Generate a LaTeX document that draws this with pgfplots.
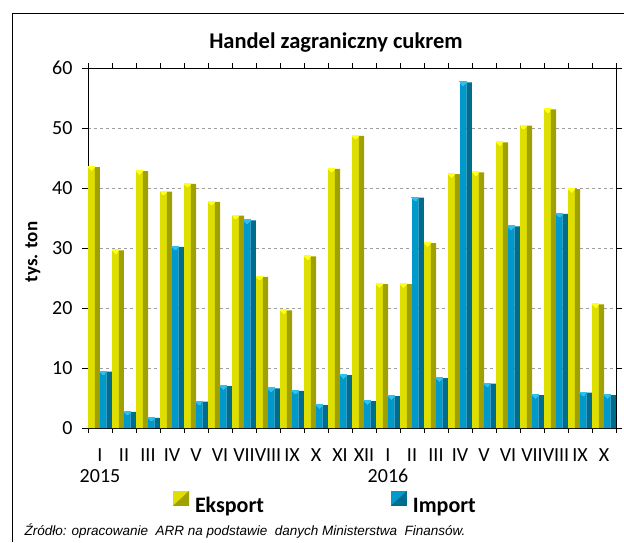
\documentclass[border=0pt]{standalone}
\usepackage{pgfplots}
\usepackage{pgfplotstable}
\pgfplotsset{compat=1.18}
\usepackage{fontspec}
\setmainfont{Carlito}
\newfontfamily\arialf{Liberation Sans}
\definecolor{expL}{HTML}{DEDE00}
\definecolor{expD}{HTML}{A0A000}
\definecolor{expT}{HTML}{FFFF20}
\definecolor{impL}{HTML}{0099CC}
\definecolor{impD}{HTML}{006C8E}
\definecolor{impT}{HTML}{30C0F0}
\pgfplotstableread{
x eksport import
0 43.5 9.4
1 29.6 2.7
2 42.8 1.7
3 39.4 30.2
4 40.7 4.4
5 37.7 7.0
6 35.4 34.6
7 25.2 6.6
8 19.6 6.2
9 28.6 3.8
10 43.2 8.8
11 48.7 4.5
12 24.0 5.3
13 24.0 38.4
14 30.8 8.3
15 42.3 57.6
16 42.6 7.4
17 47.6 33.6
18 50.4 5.5
19 53.1 35.7
20 39.8 5.9
21 20.6 5.5
}\dane
\begin{document}
\begin{tikzpicture}
\begin{axis}[
 anchor=south west, scale only axis, width=528pt, height=360pt,
 xmin=-0.5, xmax=21.5, ymin=0, ymax=60,
 clip=false,
 ytick={0,10,...,60},
 xtick={0,...,21},
 xticklabels={I,II,III,IV,V,VI,VII,VIII,IX,X,XI,XII,I,II,III,IV,V,VI,VII,VIII,IX,X},
 minor xtick={-0.5,0.5,...,21.5},
 major x tick style={draw=none},
 tick align=outside,
 tick style={black, line width=0.8pt},
 major tick length=6pt, minor tick length=5pt,
 ymajorgrids, grid style={dashed, gray!75, line width=0.8pt},
 axis line style={line width=0.9pt},
 ticklabel style={font=\fontsize{20}{24}\selectfont},
 /pgf/number format/assume math mode=true,
 xticklabel style={yshift=-11pt},
 yticklabel style={xshift=-6pt},
 legend columns=2,
 legend style={at={(axis description cs:0.161,-0.21)}, anchor=west, draw=none, fill=none,
   inner sep=0pt, outer sep=0pt,
   font=\bfseries\fontsize{22}{26}\selectfont,
   /tikz/every odd column/.style={column sep=4pt},
   /tikz/every even column/.style={column sep=125pt}},
]
\addplot[ybar, bar width=0.28, bar shift=-0.35, fill=expL, draw=none,
  legend image code/.code={\fill[expL] (0pt,0pt) rectangle (16pt,15pt);
    \fill[expD] (16pt,0pt) -- (16pt,15pt) -- (0pt,0pt) -- cycle;}]
  table[x=x,y=eksport]{\dane};
\addlegendentry{Eksport}
\addplot[ybar, bar width=0.21, bar shift=-0.105, fill=expD, draw=none, forget plot]
  table[x=x,y=eksport]{\dane};
\addplot[ybar, bar width=0.28, bar shift=0.14, fill=impL, draw=none,
  legend image code/.code={\fill[impL] (0pt,0pt) rectangle (16pt,15pt);
    \fill[impD] (16pt,0pt) -- (16pt,15pt) -- (0pt,0pt) -- cycle;}]
  table[x=x,y=import]{\dane};
\addlegendentry{Import}
\addplot[ybar, bar width=0.21, bar shift=0.385, fill=impD, draw=none, forget plot]
  table[x=x,y=import]{\dane};
% 3D top caps
\addplot[only marks, forget plot, color=expT, mark=triangle*, mark size=3.9pt,
  mark options={solid, fill=expT, draw=expT, line width=0pt, rotate=180, yscale=0.6, yshift=1.2pt}]
  table[x expr=\thisrow{x}-0.35, y=eksport]{\dane};
\addplot[only marks, forget plot, color=impT, mark=triangle*, mark size=3.9pt,
  mark options={solid, fill=impT, draw=impT, line width=0pt, rotate=180, yscale=0.6, yshift=1.2pt}]
  table[x expr=\thisrow{x}+0.14, y=import]{\dane};
\node[font=\fontsize{20}{24}\selectfont] at (axis cs:0,0) [yshift=-48pt] {2015};
\node[font=\fontsize{20}{24}\selectfont] at (axis cs:12,0) [yshift=-48pt] {2016};
\end{axis}
\begin{scope}[shift={(-88pt,-114pt)}]
\draw[line width=1pt] (12.5pt,0pt) -- (12.5pt,528.5pt) -- (624pt,528.5pt);
\node[font=\bfseries\fontsize{22.5}{26}\selectfont] at (336pt,499pt) {Handel zagraniczny cukrem};
\node[rotate=90,font=\bfseries\fontsize{19}{23}\selectfont] at (33pt,290pt) {tys. ton};
\node[anchor=base west,font=\arialf\itshape\fontsize{13.5}{16}\selectfont] at (21pt,7pt) {Źródło: opracowanie\ \ ARR na podstawie\ \ danych Ministerstwa\ \ Finansów.};
\pgfresetboundingbox
\useasboundingbox (0pt,0pt) rectangle (624pt,542pt);
\end{scope}
\end{tikzpicture}
\end{document}
